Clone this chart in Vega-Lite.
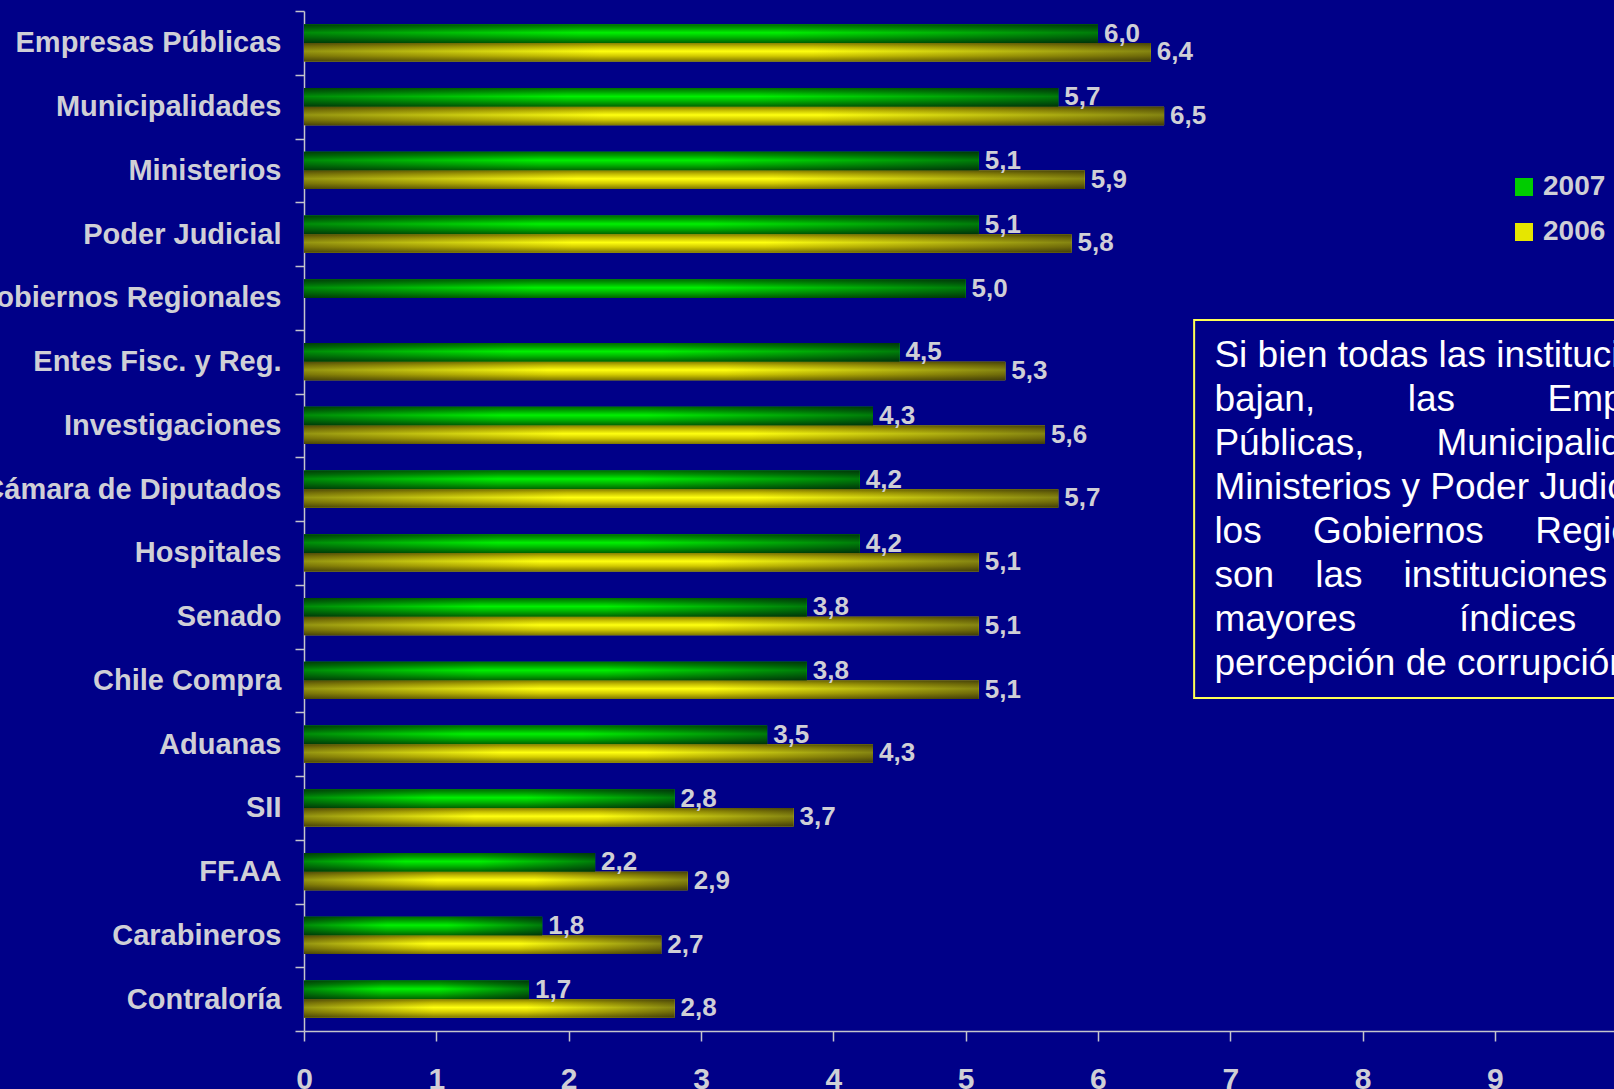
{
  "$schema": "https://vega.github.io/schema/vega-lite/v6.json",
  "width": 1310,
  "height": 1020,
  "autosize": {"type": "none"},
  "padding": {"left": 304, "top": 11, "right": 0, "bottom": 58},
  "background": "#000088",
  "config": {
    "view": {"stroke": null},
    "locale": {"number": {"decimal": ",", "thousands": ".", "grouping": [3], "currency": ["$", ""]}}
  },
  "resolve": {"scale": {"y": "independent"}, "axis": {"y": "independent"}},
  "layer": [
    {
      "data": {
        "values": [
          {"inst": "Empresas Públicas", "year": "2007", "value": 6.0},
          {"inst": "Empresas Públicas", "year": "2006", "value": 6.4},
          {"inst": "Municipalidades", "year": "2007", "value": 5.7},
          {"inst": "Municipalidades", "year": "2006", "value": 6.5},
          {"inst": "Ministerios", "year": "2007", "value": 5.1},
          {"inst": "Ministerios", "year": "2006", "value": 5.9},
          {"inst": "Poder Judicial", "year": "2007", "value": 5.1},
          {"inst": "Poder Judicial", "year": "2006", "value": 5.8},
          {"inst": "Gobiernos Regionales", "year": "2007", "value": 5.0},
          {"inst": "Entes Fisc. y Reg.", "year": "2007", "value": 4.5},
          {"inst": "Entes Fisc. y Reg.", "year": "2006", "value": 5.3},
          {"inst": "Investigaciones", "year": "2007", "value": 4.3},
          {"inst": "Investigaciones", "year": "2006", "value": 5.6},
          {"inst": "Cámara de Diputados", "year": "2007", "value": 4.2},
          {"inst": "Cámara de Diputados", "year": "2006", "value": 5.7},
          {"inst": "Hospitales", "year": "2007", "value": 4.2},
          {"inst": "Hospitales", "year": "2006", "value": 5.1},
          {"inst": "Senado", "year": "2007", "value": 3.8},
          {"inst": "Senado", "year": "2006", "value": 5.1},
          {"inst": "Chile Compra", "year": "2007", "value": 3.8},
          {"inst": "Chile Compra", "year": "2006", "value": 5.1},
          {"inst": "Aduanas", "year": "2007", "value": 3.5},
          {"inst": "Aduanas", "year": "2006", "value": 4.3},
          {"inst": "SII", "year": "2007", "value": 2.8},
          {"inst": "SII", "year": "2006", "value": 3.7},
          {"inst": "FF.AA", "year": "2007", "value": 2.2},
          {"inst": "FF.AA", "year": "2006", "value": 2.9},
          {"inst": "Carabineros", "year": "2007", "value": 1.8},
          {"inst": "Carabineros", "year": "2006", "value": 2.7},
          {"inst": "Contraloría", "year": "2007", "value": 1.7},
          {"inst": "Contraloría", "year": "2006", "value": 2.8}
        ]
      },
      "encoding": {
        "y": {
          "field": "inst",
          "type": "nominal",
          "title": null,
          "scale": {
            "domain": ["Empresas Públicas", "Municipalidades", "Ministerios", "Poder Judicial", "Gobiernos Regionales", "Entes Fisc. y Reg.", "Investigaciones", "Cámara de Diputados", "Hospitales", "Senado", "Chile Compra", "Aduanas", "SII", "FF.AA", "Carabineros", "Contraloría"],
            "paddingInner": 0,
            "paddingOuter": 0
          },
          "axis": {
            "tickBand": "extent",
            "tickSize": 9,
            "tickWidth": 1.5,
            "tickColor": "#c4c4cc",
            "domainColor": "#c4c4cc",
            "domainWidth": 1.5,
            "labelFont": "Liberation Sans",
            "labelFontSize": 29,
            "labelFontWeight": "bold",
            "labelColor": "#cfcfd6",
            "labelPadding": 14,
            "labelLimit": 1000,
            "grid": false
          }
        },
        "yOffset": {
          "field": "year",
          "type": "nominal",
          "scale": {"domain": ["2007", "2006"], "paddingInner": 0, "paddingOuter": 0.72}
        },
        "x": {
          "field": "value",
          "type": "quantitative",
          "title": null,
          "scale": {"domain": [0, 9.9], "nice": false, "zero": true},
          "axis": {
            "values": [0, 1, 2, 3, 4, 5, 6, 7, 8, 9],
            "format": "d",
            "grid": false,
            "labelFlush": false,
            "tickSize": 10,
            "tickWidth": 1.5,
            "tickColor": "#c4c4cc",
            "domainColor": "#c4c4cc",
            "domainWidth": 1.5,
            "labelFont": "Liberation Sans",
            "labelFontSize": 30,
            "labelFontWeight": "bold",
            "labelColor": "#cfcfd6",
            "labelPadding": 23
          }
        }
      },
      "layer": [
        {
          "mark": {"type": "bar"},
          "encoding": {
            "color": {
              "field": "year",
              "type": "nominal",
              "scale": {"domain": ["2007", "2006"], "range": ["#00cc00", "#e6e600"]},
              "legend": {
                "title": null,
                "orient": "none",
                "legendX": 1206,
                "legendY": 162,
                "padding": 0,
                "symbolType": "square",
                "symbolSize": 324,
                "symbolStrokeWidth": 0,
                "labelFont": "Liberation Sans",
                "labelFontSize": 28,
                "labelFontWeight": "bold",
                "labelColor": "#cfcfd6",
                "labelOffset": 5,
                "rowPadding": 17
              }
            }
          }
        },
        {
          "transform": [{"filter": "datum.year == '2007'"}],
          "mark": {
            "type": "bar",
            "fill": {
              "gradient": "linear", "x1": 0, "y1": 0, "x2": 0, "y2": 1,
              "stops": [
                {"offset": 0, "color": "#006c00"},
                {"offset": 0.2, "color": "#00a000"},
                {"offset": 0.45, "color": "#00f000"},
                {"offset": 0.7, "color": "#00b400"},
                {"offset": 1, "color": "#006400"}
              ]
            }
          }
        },
        {
          "transform": [{"filter": "datum.year == '2006'"}],
          "mark": {
            "type": "bar",
            "fill": {
              "gradient": "linear", "x1": 0, "y1": 0, "x2": 0, "y2": 1,
              "stops": [
                {"offset": 0, "color": "#857d00"},
                {"offset": 0.2, "color": "#c4bc00"},
                {"offset": 0.45, "color": "#ffff10"},
                {"offset": 0.7, "color": "#d2ca00"},
                {"offset": 1, "color": "#7e7600"}
              ]
            }
          }
        },
        {
          "mark": {
            "type": "bar",
            "fill": {
              "gradient": "linear", "x1": 0, "y1": 0, "x2": 1, "y2": 0,
              "stops": [
                {"offset": 0, "color": "rgba(0,0,20,0.42)"},
                {"offset": 0.35, "color": "rgba(0,0,20,0)"},
                {"offset": 0.6, "color": "rgba(0,0,20,0)"},
                {"offset": 1, "color": "rgba(0,0,20,0.48)"}
              ]
            }
          }
        },
        {
          "mark": {
            "type": "text",
            "align": "left",
            "baseline": "middle",
            "dx": 6,
            "font": "Liberation Sans",
            "fontSize": 26,
            "fontWeight": "bold",
            "color": "#cfcfd6"
          },
          "encoding": {
            "text": {"field": "value", "type": "quantitative", "format": ".1f"}
          }
        }
      ]
    },
    {
      "data": {"values": [{"note": "Si bien todas las instituciones\nbajan,\u00a0\u00a0\u00a0\u00a0\u00a0\u00a0\u00a0\u00a0\u00a0las\u00a0\u00a0\u00a0\u00a0\u00a0\u00a0\u00a0\u00a0\u00a0Empresas\nPúblicas,\u00a0\u00a0\u00a0\u00a0\u00a0\u00a0\u00a0Municipalidades,\nMinisterios y Poder Judicial y\nlos\u00a0\u00a0\u00a0\u00a0\u00a0Gobiernos\u00a0\u00a0\u00a0\u00a0\u00a0Regionales\nson\u00a0\u00a0\u00a0\u00a0las\u00a0\u00a0\u00a0\u00a0instituciones\u00a0\u00a0\u00a0\u00a0con\nmayores\u00a0\u00a0\u00a0\u00a0\u00a0\u00a0\u00a0\u00a0\u00a0\u00a0índices\u00a0\u00a0\u00a0\u00a0\u00a0\u00a0\u00a0\u00a0\u00a0\u00a0de\npercepción de corrupción."}]},
      "layer": [
        {
          "mark": {"type": "rect", "fill": "transparent", "stroke": "#ffff55", "strokeWidth": 2},
          "encoding": {
            "x": {"datum": 6.727, "type": "quantitative", "scale": {"domain": [0, 9.9], "nice": false}},
            "x2": {"datum": 11},
            "y": {"datum": 4.847, "type": "quantitative", "scale": {"domain": [0, 16], "reverse": true, "nice": false, "zero": false}, "axis": null},
            "y2": {"datum": 10.776}
          }
        },
        {
          "mark": {
            "type": "text",
            "align": "left",
            "baseline": "alphabetic",
            "lineBreak": "\n",
            "lineHeight": 44,
            "font": "Liberation Sans",
            "fontSize": 37,
            "color": "#ffffff"
          },
          "encoding": {
            "x": {"datum": 6.88, "type": "quantitative", "scale": {"domain": [0, 9.9], "nice": false}},
            "y": {"datum": 5.58, "type": "quantitative", "scale": {"domain": [0, 16], "reverse": true, "nice": false, "zero": false}, "axis": null},
            "text": {"field": "note"}
          }
        }
      ]
    }
  ]
}
